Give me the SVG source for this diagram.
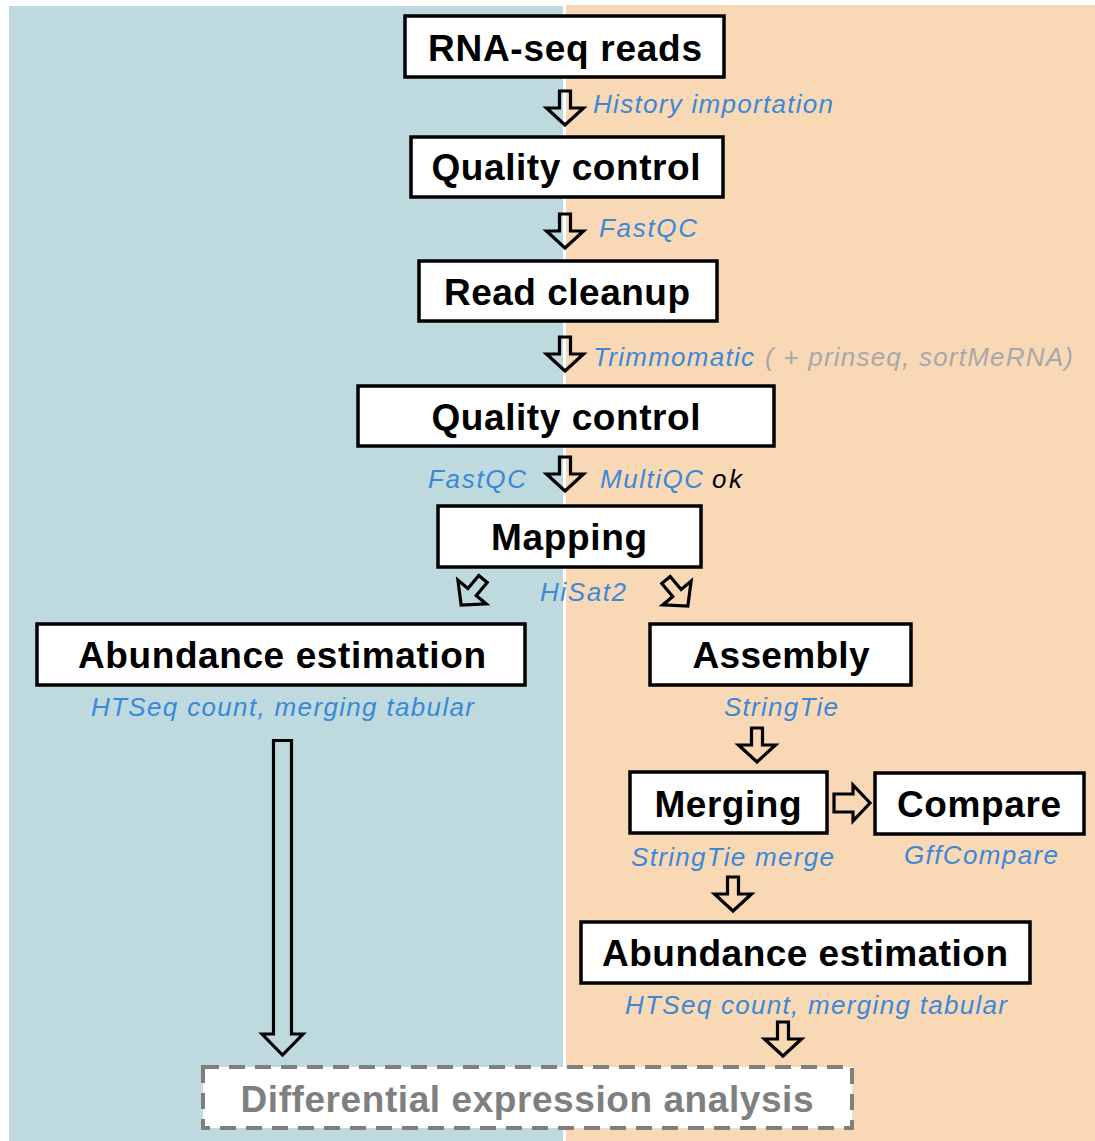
<svg xmlns="http://www.w3.org/2000/svg" width="1095" height="1141" viewBox="0 0 1095 1141">
  <style>
    .box { fill: #ffffff; stroke: #000000; stroke-width: 3.5; }
    .dash { fill: #ffffff; stroke: #7f7f7f; stroke-width: 4; stroke-dasharray: 16 10; }
    .title { font-family: "Liberation Sans", Arial, sans-serif; font-weight: bold; font-size: 37px; fill: #000000; }
    .gtitle { font-family: "Liberation Sans", Arial, sans-serif; font-weight: bold; font-size: 37px; fill: #7f7f7f; }
    .tool { font-family: "Liberation Sans", Arial, sans-serif; font-style: italic; font-size: 26px; fill: #3b88d8; }
    .note { font-family: "Liberation Sans", Arial, sans-serif; font-style: italic; font-size: 26px; fill: #a8a8a8; }
    .ok { font-family: "Liberation Sans", Arial, sans-serif; font-style: italic; font-size: 26px; fill: #000000; }
    .arrow { fill: none; stroke: #000000; stroke-width: 3.2; stroke-linejoin: miter; }
  </style>
  <defs>
    <!-- hollow block arrow pointing down, origin at the top of the shaft -->
    <path id="down" d="M -5.5 0 V 17 H -18.5 L 0 34 L 18.5 17 H 5.5 V 0 Z"/>
  </defs>

  <!-- two background panels -->
  <rect x="0" y="0" width="1095" height="1141" fill="#ffffff"/>
  <rect x="9" y="6" width="554" height="1135" fill="#bedadf"/>
  <rect x="566" y="5" width="529" height="1136" fill="#f9d8b6"/>

  <g id="connectors">
    <use href="#down" class="arrow" transform="translate(565,91)"/>
    <use href="#down" class="arrow" transform="translate(565,214)"/>
    <use href="#down" class="arrow" transform="translate(565,337)"/>
    <use href="#down" class="arrow" transform="translate(565,457)"/>
    <use href="#down" class="arrow" transform="translate(483,579) rotate(40)"/>
    <use href="#down" class="arrow" transform="translate(666,580) rotate(-40)"/>
    <use href="#down" class="arrow" transform="translate(757,728)"/>
    <path class="arrow" d="M 834 794 H 853 V 785 L 870 803 L 853 821 V 812 H 834 Z"/>
    <use href="#down" class="arrow" transform="translate(733,877)"/>
    <use href="#down" class="arrow" transform="translate(783,1022)"/>
    <path class="arrow" d="M 273.5 740.5 H 291.5 V 1034 H 303 L 282.5 1055 L 262 1034 H 273.5 Z"/>
  </g>

  <g id="node-reads">
    <rect class="box" x="405" y="16" width="319" height="61"/>
    <text class="title" x="565" y="61" text-anchor="middle" textLength="274">RNA-seq reads</text>
  </g>
  <text class="tool" x="593" y="113" textLength="240">History importation</text>

  <g id="node-qc1">
    <rect class="box" x="411" y="137" width="312" height="60"/>
    <text class="title" x="566" y="180" text-anchor="middle" textLength="269">Quality control</text>
  </g>
  <text class="tool" x="599" y="237" textLength="98">FastQC</text>

  <g id="node-cleanup">
    <rect class="box" x="419" y="261" width="298" height="60"/>
    <text class="title" x="567" y="305" text-anchor="middle" textLength="246">Read cleanup</text>
  </g>
  <text class="tool" x="593" y="366" textLength="161">Trimmomatic</text>
  <text class="note" x="765" y="366" textLength="308">( + prinseq, sortMeRNA)</text>

  <g id="node-qc2">
    <rect class="box" x="358" y="386" width="416" height="60"/>
    <text class="title" x="566" y="430" text-anchor="middle" textLength="269">Quality control</text>
  </g>
  <text class="tool" x="428" y="488" textLength="98">FastQC</text>
  <text class="tool" x="600" y="488" textLength="103">MultiQC</text>
  <text class="ok" x="712" y="488" textLength="30">ok</text>

  <g id="node-mapping">
    <rect class="box" x="438" y="506" width="263" height="61"/>
    <text class="title" x="569" y="550" text-anchor="middle" textLength="156">Mapping</text>
  </g>
  <text class="tool" x="540" y="601" textLength="86">HiSat2</text>

  <g id="node-abundance-left">
    <rect class="box" x="37" y="624" width="488" height="61"/>
    <text class="title" x="282" y="668" text-anchor="middle" textLength="408">Abundance estimation</text>
  </g>
  <text class="tool" x="91" y="716" textLength="383">HTSeq count, merging tabular</text>

  <g id="node-assembly">
    <rect class="box" x="650" y="624" width="261" height="61"/>
    <text class="title" x="781" y="668" text-anchor="middle" textLength="177">Assembly</text>
  </g>
  <text class="tool" x="724" y="716" textLength="114">StringTie</text>

  <g id="node-merging">
    <rect class="box" x="630" y="772" width="197" height="61"/>
    <text class="title" x="728" y="817" text-anchor="middle" textLength="147">Merging</text>
  </g>
  <text class="tool" x="631" y="866" textLength="203">StringTie merge</text>

  <g id="node-compare">
    <rect class="box" x="875" y="773" width="209" height="61"/>
    <text class="title" x="979" y="817" text-anchor="middle" textLength="164">Compare</text>
  </g>
  <text class="tool" x="904" y="864" textLength="154">GffCompare</text>

  <g id="node-abundance-right">
    <rect class="box" x="581" y="922" width="449" height="61"/>
    <text class="title" x="805" y="966" text-anchor="middle" textLength="406">Abundance estimation</text>
  </g>
  <text class="tool" x="625" y="1014" textLength="382">HTSeq count, merging tabular</text>

  <g id="node-differential">
    <rect class="dash" x="203" y="1067" width="649" height="61"/>
    <text class="gtitle" x="527" y="1112" text-anchor="middle" textLength="573">Differential expression analysis</text>
  </g>
</svg>
